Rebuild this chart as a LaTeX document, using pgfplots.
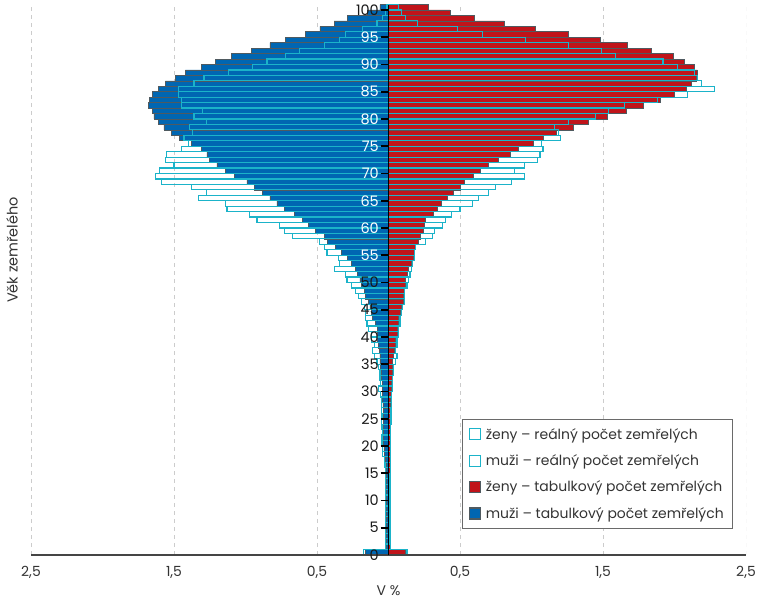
\documentclass[border=0pt]{standalone}
\usepackage{pgfplots}
\pgfplotsset{compat=1.18}
\usepackage{pgfplotstable}
\usepackage{fontspec}
\setmainfont{Poppins}
\definecolor{mblue}{HTML}{0066B2}
\definecolor{wred}{HTML}{C0141A}
\definecolor{rcyan}{HTML}{1BB3C9}
\definecolor{edge}{HTML}{4F5A60}
\definecolor{txt}{HTML}{333333}
\definecolor{axgrey}{HTML}{454545}
\definecolor{leggrey}{HTML}{6A6A6A}
\pgfplotstableread{
age mt mr wt wr
0 0.16 0.175 0.12 0.13
1 0.015 0.02 0.01 0.012
2 0.012 0.02 0.008 0.01
3 0.012 0.02 0.008 0.01
4 0.012 0.02 0.008 0.01
5 0.012 0.02 0.008 0.01
6 0.012 0.02 0.008 0.01
7 0.012 0.02 0.008 0.01
8 0.012 0.02 0.008 0.01
9 0.012 0.02 0.008 0.01
10 0.012 0.02 0.008 0.01
11 0.012 0.02 0.008 0.01
12 0.012 0.02 0.008 0.01
13 0.014 0.02 0.008 0.01
14 0.015 0.02 0.008 0.01
15 0.016 0.022 0.01 0.012
16 0.018 0.025 0.01 0.012
17 0.02 0.028 0.01 0.012
18 0.03 0.04 0.012 0.015
19 0.032 0.042 0.012 0.015
20 0.034 0.045 0.012 0.015
21 0.034 0.045 0.012 0.015
22 0.034 0.042 0.012 0.015
23 0.035 0.045 0.013 0.016
24 0.036 0.05 0.013 0.018
25 0.037 0.045 0.014 0.018
26 0.038 0.048 0.014 0.018
27 0.039 0.05 0.015 0.02
28 0.04 0.048 0.016 0.02
29 0.042 0.055 0.017 0.022
30 0.045 0.07 0.02 0.03
31 0.045 0.055 0.022 0.03
32 0.05 0.06 0.024 0.03
33 0.05 0.06 0.026 0.035
34 0.055 0.07 0.028 0.035
35 0.06 0.08 0.03 0.05
36 0.06 0.10 0.035 0.06
37 0.065 0.11 0.04 0.05
38 0.07 0.10 0.045 0.06
39 0.075 0.12 0.05 0.06
40 0.08 0.12 0.06 0.07
41 0.08 0.14 0.06 0.07
42 0.09 0.15 0.07 0.08
43 0.11 0.16 0.07 0.08
44 0.12 0.16 0.08 0.09
45 0.13 0.17 0.09 0.10
46 0.14 0.19 0.10 0.11
47 0.16 0.21 0.10 0.11
48 0.17 0.23 0.11 0.11
49 0.19 0.26 0.12 0.13
50 0.20 0.29 0.12 0.14
51 0.22 0.30 0.13 0.15
52 0.23 0.38 0.14 0.16
53 0.26 0.34 0.16 0.17
54 0.29 0.35 0.17 0.18
55 0.33 0.43 0.18 0.18
56 0.37 0.45 0.19 0.19
57 0.43 0.48 0.21 0.26
58 0.45 0.67 0.22 0.31
59 0.51 0.73 0.24 0.32
60 0.56 0.76 0.25 0.38
61 0.60 0.92 0.26 0.40
62 0.66 0.97 0.31 0.44
63 0.73 1.13 0.34 0.50
64 0.78 1.14 0.37 0.59
65 0.83 1.33 0.41 0.63
66 0.88 1.27 0.45 0.70
67 0.94 1.38 0.50 0.75
68 0.99 1.59 0.53 0.86
69 1.08 1.63 0.59 0.95
70 1.14 1.60 0.64 0.88
71 1.20 1.50 0.70 0.95
72 1.25 1.56 0.77 1.04
73 1.27 1.55 0.85 1.06
74 1.31 1.45 0.91 1.08
75 1.38 1.40 1.01 1.07
76 1.46 1.43 1.08 1.20
77 1.52 1.37 1.17 1.19
78 1.57 1.39 1.29 1.16
79 1.61 1.27 1.40 1.26
80 1.64 1.36 1.53 1.45
81 1.65 1.30 1.66 1.54
82 1.68 1.45 1.78 1.65
83 1.67 1.45 1.90 1.88
84 1.65 1.47 2.00 2.09
85 1.61 1.47 2.08 2.28
86 1.56 1.36 2.12 2.19
87 1.49 1.29 2.15 2.16
88 1.42 1.12 2.16 2.14
89 1.31 0.95 2.14 2.02
90 1.21 0.85 2.07 1.92
91 1.10 0.72 1.99 1.59
92 0.96 0.62 1.84 1.49
93 0.83 0.45 1.67 1.26
94 0.72 0.34 1.48 0.96
95 0.58 0.30 1.26 0.66
96 0.48 0.18 1.03 0.48
97 0.38 0.08 0.81 0.20
98 0.29 0.04 0.60 0.12
99 0.15 0.02 0.43 0.09
100 0.06 0.01 0.28 0.07
}\data
\begin{document}
\begin{tikzpicture}
\path[use as bounding box] (-31bp,-45bp) rectangle (729bp,555bp);
\begin{axis}[
 axis on top,
 scale only axis, width=715bp, height=550.45bp,
 xmin=-2.5, xmax=2.5, ymin=0, ymax=101,
 xbar, bar width=1, bar shift=0pt,
 axis x line=bottom, axis y line=center,
 hide obscured y ticks=false, hide obscured x ticks=false,
 axis line style={-},
 x axis line style={draw=axgrey, line width=1.6bp},
 y axis line style={draw=black, line width=1.6bp},
 xtick={-2.5,-1.5,-0.5,0.5,1.5,2.5},
 xticklabels={{2,5},{1,5},{0,5},{0,5},{1,5},{2,5}},
 major x tick style={draw=none},
 ytick={0,5,...,100},
 yticklabels={0,5,10,15,20,25,30,35,40,45,50,\textcolor{white}{55},\textcolor{white}{60},\textcolor{white}{65},\textcolor{white}{70},\textcolor{white}{75},\textcolor{white}{80},\textcolor{white}{85},\textcolor{white}{90},\textcolor{white}{95},100},
 major y tick style={draw=black, line width=1.6bp},
 tick align=outside, major tick length=8bp,
 xticklabel style={font=\fontsize{14}{14}\selectfont, text=txt},
 yticklabel style={font=\fontsize{14.5}{14.5}\selectfont, text=black!90, inner sep=1.5bp},
 xlabel={V \%}, ylabel={Věk zemřelého},
 every axis x label/.style={at={(axis description cs:0.5,-0.064)}, anchor=center, font=\fontsize{14}{14}\selectfont, text=txt},
 every axis y label/.style={at={(axis description cs:-0.0266,0.554)}, rotate=90, anchor=center, font=\fontsize{14.5}{14.5}\selectfont, text=txt},
 legend image code/.code={\draw[#1, line width=1.3bp] (0bp,-5.5bp) rectangle (11bp,5.5bp); \path[draw=none,fill=none] (0bp,0bp) -- (14bp,0bp);},
 reverse legend,
 legend style={at={(0.982,0.047)}, anchor=south east, draw=leggrey, line width=0.9bp, font=\fontsize{14}{14}\selectfont, text=txt, row sep=10bp, inner xsep=7bp, inner ysep=7bp, cells={anchor=west}},
]
\pgfplotsinvokeforeach{-2.5,-1.5,-0.5,0.5,1.5,2.5}{
 \draw[draw=black!20, dash pattern=on 4bp off 4bp, line width=0.7bp] (axis cs:#1,0) -- (axis cs:#1,101);
}
\addplot[fill=mblue, draw=edge, line width=0.6bp] table[x expr=-\thisrow{mt}, y expr=\thisrow{age}+0.5]{\data};
\addlegendentry{muži – tabulkový počet zemřelých}
\addplot[fill=wred, draw=edge, line width=0.6bp] table[x=wt, y expr=\thisrow{age}+0.5]{\data};
\addlegendentry{ženy – tabulkový počet zemřelých}
\addplot[fill=none, draw=rcyan, line width=1.2bp] table[x expr=-\thisrow{mr}, y expr=\thisrow{age}+0.5]{\data};
\addlegendentry{muži – reálný počet zemřelých}
\addplot[fill=none, draw=rcyan, line width=1.2bp] table[x=wr, y expr=\thisrow{age}+0.5]{\data};
\addlegendentry{ženy – reálný počet zemřelých}
\end{axis}
\end{tikzpicture}
\end{document}
